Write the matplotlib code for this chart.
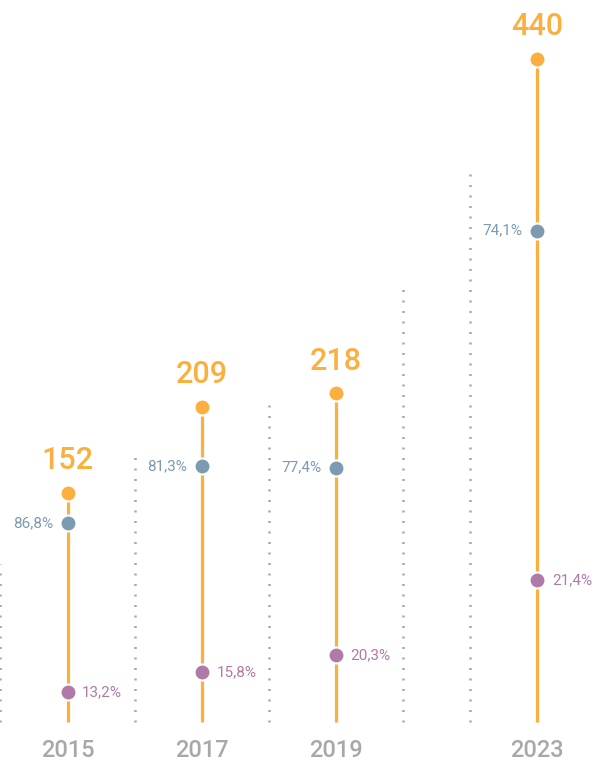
import matplotlib.pyplot as plt

plt.rcParams["font.family"] = ["Roboto", "DejaVu Sans"]

years = ["2015", "2017", "2019", "2023"]
xpos = [0, 1, 2, 3.5]
totals = [152, 209, 218, 440]
share_blue = [86.8, 81.3, 77.4, 74.1]
share_purple = [13.2, 15.8, 20.3, 21.4]

# dotted separators: x position and height in the same units as totals
sep_x = [-0.5, 0.5, 1.5, 2.5, 3.0]
sep_h = [105, 180, 212, 291, 366]

ORANGE = "#FBAF3F"
BLUE = "#7C9AB0"
PURPLE = "#B07AA8"
GRAY = "#A8A8A8"

fig = plt.figure(figsize=(5.95, 7.62), dpi=100)
ax = fig.add_axes([0, 0, 1, 1])
ax.set_xlim(-0.503, 3.93)
ax.set_ylim(-26.5, 479)
ax.axis("off")

for x, h in zip(sep_x, sep_h):
    ax.plot([x, x], [0, h], color=GRAY, lw=1.8, ls=(0, (0.8, 3.4)),
            dash_capstyle="butt", zorder=1)

for x, yr, tot, pb, pp in zip(xpos, years, totals, share_blue, share_purple):
    yb = tot * pb / 100
    yp = tot * pp / 100
    ax.plot([x, x], [0, tot], color=ORANGE, lw=2.3, solid_capstyle="butt", zorder=2)
    for yy, col in ((tot, ORANGE), (yb, BLUE), (yp, PURPLE)):
        ax.plot([x], [yy], "o", ms=11.5, color=col, mec="white", mew=1.5, zorder=3)
    ax.annotate(str(tot), (x, tot), xytext=(0, 17), textcoords="offset points",
                ha="center", va="baseline", fontsize=22, fontweight="medium",
                color=ORANGE)
    ax.annotate(f"{pb:.1f}%".replace(".", ","), (x, yb), xytext=(-10.5, 0),
                textcoords="offset points", ha="right", va="center",
                fontsize=11, color=BLUE)
    ax.annotate(f"{pp:.1f}%".replace(".", ","), (x, yp), xytext=(10.5, 0),
                textcoords="offset points", ha="left", va="center",
                fontsize=11, color=PURPLE)
    ax.text(x, -23.5, yr, ha="center", va="baseline", fontsize=17,
            fontweight="medium", color=GRAY)

fig.savefig("out.png", dpi=100)
